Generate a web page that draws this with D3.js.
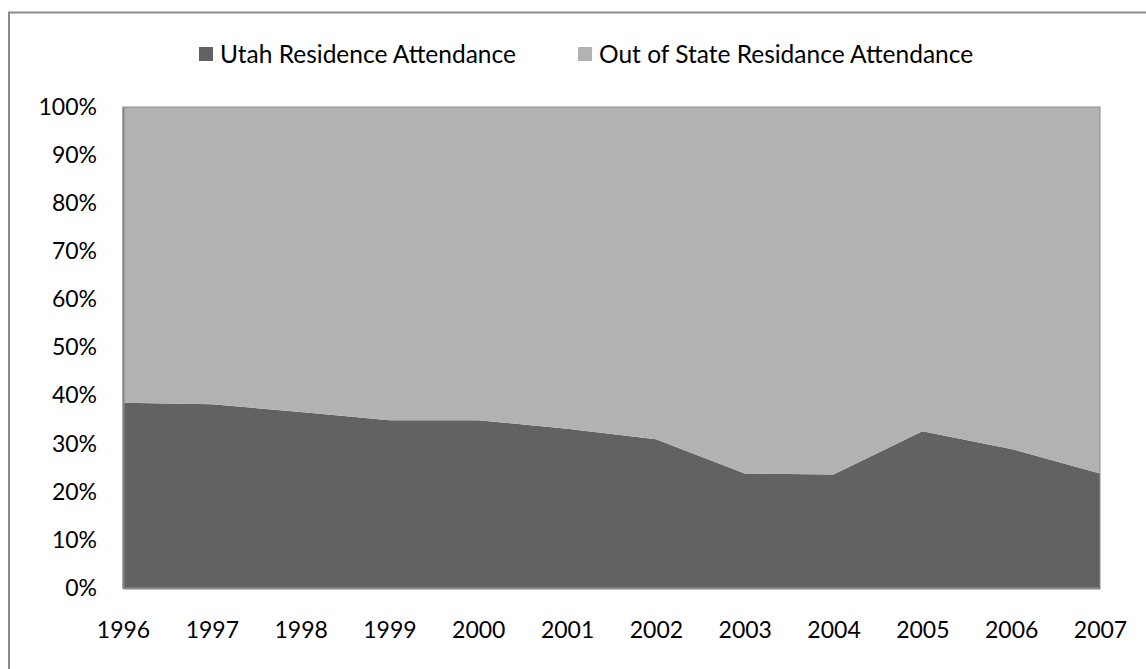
<!DOCTYPE html>
<html>
<head>
<meta charset="utf-8">
<script src="https://d3js.org/d3.v7.min.js"></script>
<style>
  html, body { margin: 0; padding: 0; background: #fff; }
  svg { display: block; }
  text { font-family: Lato, "Open Sans", sans-serif; fill: #000; }
</style>
</head>
<body>
<script>
const years = ["1996","1997","1998","1999","2000","2001","2002","2003","2004","2005","2006","2007"];
const utahShare = [0.385, 0.382, 0.366, 0.349, 0.349, 0.331, 0.309, 0.238, 0.236, 0.326, 0.289, 0.238];
const outOfStateShare = utahShare.map(v => 1 - v);
const seriesNames = ["Utah Residence Attendance", "Out of State Residance Attendance"];
const seriesColors = ["#626262", "#b2b2b2"];
const yTicks = [0, 0.1, 0.2, 0.3, 0.4, 0.5, 0.6, 0.7, 0.8, 0.9, 1.0];

const W = 1146, H = 669;
const margin = {left: 123, right: 46, top: 107, bottom: 81};
const legendFont = "24.5px";
const axisFont = "23px";

const svg = d3.select("body").append("svg").attr("width", W).attr("height", H);

// outer chart border (extends beyond the frame on right and bottom)
svg.append("path")
  .attr("d", `M9,${H+5} L9,12.5 L${W+5},12.5`)
  .attr("fill", "none").attr("stroke", "#8a8a8a").attr("stroke-width", 2);

const x = d3.scalePoint().domain(years).range([margin.left, W - margin.right]);
const y = d3.scaleLinear().domain([0, 1]).range([H - margin.bottom, margin.top]);

const rows = years.map((yr, i) => ({year: yr, utah: utahShare[i], out: outOfStateShare[i]}));
const stack = d3.stack().keys(["utah", "out"]);
const layers = stack(rows);

const area = d3.area()
  .x(d => x(d.data.year))
  .y0(d => y(d[0]))
  .y1(d => y(d[1]));

svg.append("g").selectAll("path").data(layers).join("path")
  .attr("d", area)
  .attr("fill", (d, i) => seriesColors[i]);

// plot area frame
svg.append("rect")
  .attr("x", margin.left).attr("y", margin.top)
  .attr("width", W - margin.right - margin.left)
  .attr("height", H - margin.bottom - margin.top)
  .attr("fill", "none").attr("stroke", "#8c8c8c").attr("stroke-width", 1);

// axes
const yAxis = d3.axisLeft(y).tickValues(yTicks).tickFormat(d3.format(".0%")).tickSize(0).tickPadding(26);
const gy = svg.append("g").attr("transform", `translate(${margin.left},0)`).call(yAxis);
gy.select(".domain").attr("stroke", "#868686").attr("stroke-width", 2);
gy.selectAll("text").style("font-size", axisFont).attr("fill", "#000");

const xAxis = d3.axisBottom(x).tickSize(0).tickPadding(34);
const gx = svg.append("g").attr("transform", `translate(0,${H - margin.bottom})`).call(xAxis);
gx.select(".domain").attr("stroke", "#868686").attr("stroke-width", 2);
gx.selectAll("text").style("font-size", axisFont).attr("fill", "#000");

// legend
const legendItems = [{x: 199, name: seriesNames[0], color: seriesColors[0]},
                     {x: 578, name: seriesNames[1], color: seriesColors[1]}];
const lg = svg.append("g");
legendItems.forEach(it => {
  lg.append("rect").attr("x", it.x).attr("y", 47).attr("width", 14).attr("height", 14).attr("fill", it.color);
  lg.append("text").attr("x", it.x + 21).attr("y", 54).attr("dy", "0.35em")
    .style("font-size", legendFont).text(it.name);
});
</script>
</body>
</html>
